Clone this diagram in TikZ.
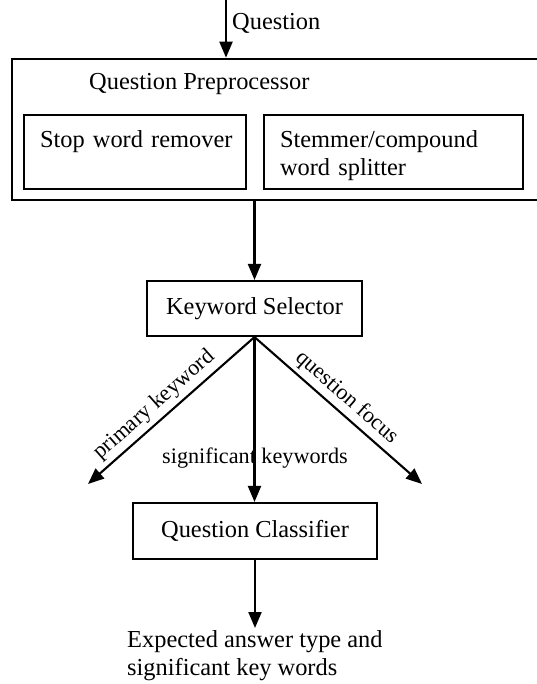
\documentclass[tikz,border=0pt]{standalone}
\usepackage{fontspec}
\setmainfont{Liberation Serif}
\usetikzlibrary{arrows.meta}
\begin{document}
\begin{tikzpicture}[x=1pt,y=-1pt,
  every node/.style={font=\fontsize{24.4}{28}\selectfont, inner sep=0pt},
  boxframe/.style={draw, line width=2.1pt},
  subbox/.style={boxframe, anchor=north west, minimum height=74pt,
    inner xsep=16pt, inner ysep=7.5pt, text height=24.5pt, text depth=34.5pt, align=left},
  flow/.style={line width=2.1pt, -{Triangle[length=16pt,width=13pt]}},
  arrowlabel/.style={font=\fontsize{22.2}{26}\selectfont},
]
\useasboundingbox (0,0) rectangle (537,684);

% preprocessing stage with its two components
\node[draw, line width=2.7pt, minimum width=527pt, minimum height=141pt] (pre) at (275.5,129.5) {};
\node[anchor=base west] (pretitle) at (89,90) {Question Preprocessor};
\node[subbox, minimum width=222pt, text width=190pt] (stop) at (23,114) {\mbox{Stop word remover}};
\node[subbox, minimum width=259pt, text width=227pt] (stem) at (263,114) {Stemmer/compound\\word splitter};

% incoming question
\coordinate (qin) at (226,0);
\draw[flow] (qin) -- (qin |- pre.north);
\node[anchor=base west] (qlabel) at (232,30) {Question};

% keyword selection
\node[boxframe, minimum width=215pt, minimum height=55pt] (kw) at (254.5,308.5) {Keyword Selector};
\draw[flow] (pre.south -| kw) -- (kw.north);

% classification
\node[boxframe, minimum width=244pt, minimum height=56pt] (qc) at (255,531) {Question Classifier};

\coordinate (pk) at (88,484);
\coordinate (qf) at (422,484);
\draw[flow] (kw.south) -- node[arrowlabel, sloped, above, pos=0.54, inner sep=4pt] (pklabel) {primary keyword} (pk);
\draw[flow] (kw.south) -- node[arrowlabel, sloped, above, pos=0.49, inner sep=4pt] (qflabel) {question focus} (qf);
\draw[flow] (kw.south) -- (kw.south |- qc.north);
\node[arrowlabel, anchor=base west] (sklabel) at (162,463) {significant keywords};

% result
\coordinate (out) at (255,628);
\draw[flow] (qc.south) -- (out);
\node[anchor=base west, align=left] (outtext) at (127,675) {Expected answer type and\\significant key words};
\end{tikzpicture}
\end{document}
